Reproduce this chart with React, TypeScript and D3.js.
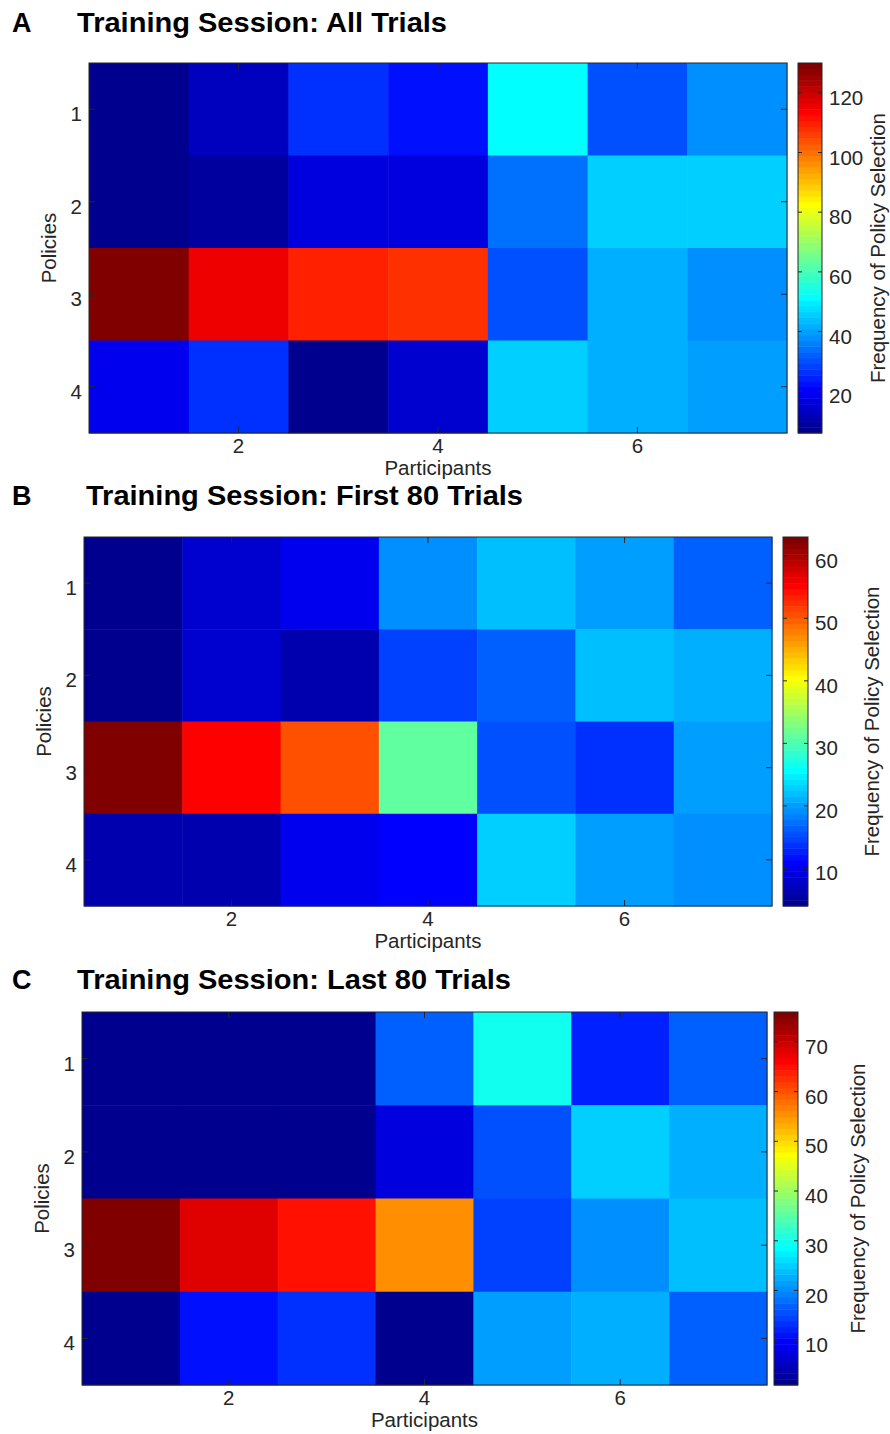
import * as d3 from "d3";
import React from "react";

const participants = [1, 2, 3, 4, 5, 6, 7];
const policies = [1, 2, 3, 4];
const xTickValues = [2, 4, 6];

// frequency of policy selection, one row per policy, one column per participant
const allTrials = [
  [6, 13, 26, 22, 51, 30, 38],
  [6, 9, 17, 17, 34, 46, 45],
  [130, 115, 110, 107, 30, 42, 38],
  [18, 26, 7, 14, 45, 42, 40],
];
const first80 = [
  [4, 8, 10, 19, 22, 20, 16],
  [4, 8, 6, 15, 16, 22, 21],
  [63, 55, 51, 31, 15.5, 14, 20],
  [6, 6, 10, 11, 23, 20, 19],
];
const last80 = [
  [1, 1, 1, 17, 30, 12, 17],
  [1, 1, 1, 7, 16, 25, 23],
  [76, 68, 65, 55, 14, 20, 24],
  [2, 11, 13, 1, 21, 23, 17],
];
const allTicks = [20, 40, 60, 80, 100, 120];
const first80Ticks = [10, 20, 30, 40, 50, 60];
const last80Ticks = [10, 20, 30, 40, 50, 60, 70];

// MATLAB jet(64), j is the 1-based index 1..64
const jet = (j: number) => {
  const r = j <= 24 ? 0 : j <= 40 ? (j - 24) / 16 : j <= 55 ? 1 : (72 - j) / 16;
  const g = j <= 8 ? 0 : j <= 24 ? (j - 8) / 16 : j <= 39 ? 1 : j <= 55 ? (56 - j) / 16 : 0;
  const b = j <= 8 ? (j + 8) / 16 : j <= 23 ? 1 : j <= 39 ? (40 - j) / 16 : 0;
  return d3.rgb(r * 255, g * 255, b * 255).formatHex();
};

const font = "'Liberation Sans', Arial, sans-serif";
const textCol = "#262626";
const fs = 20.5;

type Box = { x0: number; x1: number; y0: number; y1: number };

const Panel = ({ letter, title, values, ticks, plot, cbar, titleX, titleY, titleW, cbarLabelX }: {
  letter: string; title: string; values: number[][]; ticks: number[]; plot: Box;
  cbar: { x0: number; x1: number }; titleX: number; titleY: number; titleW: number; cbarLabelX: number
}) => {
  const flat = values.flat();
  const [cmin, cmax] = d3.extent(flat) as [number, number];
  const x = d3.scaleBand<number>().domain(participants).range([plot.x0, plot.x1]);
  const y = d3.scaleBand<number>().domain(policies).range([plot.y0, plot.y1]);
  const colorIdx = (v: number) => Math.min(64, Math.floor(((v - cmin) / (cmax - cmin)) * 64) + 1);
  const cy = d3.scaleLinear().domain([cmin, cmax]).range([plot.y1, plot.y0]);
  const levels = d3.range(64);
  const step = (cmax - cmin) / 64;
  const tl = 6;
  const midY = (plot.y0 + plot.y1) / 2;

  return (
    <g fontFamily={font}>
      <text x={12} y={titleY} fontSize={27} fontWeight="bold" fill="#000">{letter}</text>
      <text x={titleX} y={titleY} fontSize={27} fontWeight="bold" fill="#000"
        textLength={titleW} lengthAdjust="spacingAndGlyphs">{title}</text>

      {values.map((row, i) => row.map((v, k) => (
        <rect key={`${i}-${k}`} x={x(participants[k])!} y={y(policies[i])!}
          width={x.bandwidth() + 0.5} height={y.bandwidth() + 0.5} fill={jet(colorIdx(v))} />
      )))}
      <rect x={plot.x0} y={plot.y0} width={plot.x1 - plot.x0} height={plot.y1 - plot.y0}
        fill="none" stroke={textCol} strokeWidth={1} />

      {xTickValues.map(t => {
        const px = x(t)! + x.bandwidth() / 2;
        return (
          <g key={`xt${t}`}>
            <line x1={px} x2={px} y1={plot.y1} y2={plot.y1 - tl} stroke={textCol} />
            <line x1={px} x2={px} y1={plot.y0} y2={plot.y0 + tl} stroke={textCol} />
            <text x={px} y={plot.y1 + 19.5} fontSize={fs} textAnchor="middle" fill={textCol}>{t}</text>
          </g>
        );
      })}
      {policies.map(p => {
        const py = y(p)! + y.bandwidth() / 2;
        return (
          <g key={`yt${p}`}>
            <line x1={plot.x0} x2={plot.x0 + tl} y1={py} y2={py} stroke={textCol} />
            <line x1={plot.x1} x2={plot.x1 - tl} y1={py} y2={py} stroke={textCol} />
            <text x={plot.x0 - 7} y={py + 12} fontSize={fs} textAnchor="end" fill={textCol}>{p}</text>
          </g>
        );
      })}
      <text x={(plot.x0 + plot.x1) / 2} y={plot.y1 + 41.5} fontSize={fs} textAnchor="middle" fill={textCol}>Participants</text>
      <text transform={`translate(${plot.x0 - 33},${midY}) rotate(-90)`} fontSize={fs} textAnchor="middle" fill={textCol}>Policies</text>

      {levels.map(i => (
        <rect key={`cb${i}`} x={cbar.x0} y={cy(cmin + (i + 1) * step)} width={cbar.x1 - cbar.x0}
          height={cy(cmin + i * step) - cy(cmin + (i + 1) * step) + 0.5} fill={jet(i + 1)} />
      ))}
      <rect x={cbar.x0} y={plot.y0} width={cbar.x1 - cbar.x0} height={plot.y1 - plot.y0}
        fill="none" stroke={textCol} strokeWidth={1} />
      {ticks.map(t => (
        <g key={`ct${t}`}>
          <line x1={cbar.x1} x2={cbar.x1 - 4} y1={cy(t)} y2={cy(t)} stroke={textCol} />
          <line x1={cbar.x0} x2={cbar.x0 + 4} y1={cy(t)} y2={cy(t)} stroke={textCol} />
          <text x={cbar.x1 + 7} y={cy(t) + 12} fontSize={fs} fill={textCol}>{t}</text>
        </g>
      ))}
      <text transform={`translate(${cbarLabelX},${midY}) rotate(-90)`} fontSize={fs} textAnchor="middle" fill={textCol}>Frequency of Policy Selection</text>
    </g>
  );
};

export default function App() {
  return (
    <svg width={890} height={1434} style={{ position: "absolute", left: 0, top: 0, background: "#fff" }}>
      <rect width={890} height={1434} fill="#fff" />
      <Panel letter="A" title="Training Session: All Trials" values={allTrials} ticks={allTicks}
        plot={{ x0: 89, x1: 787, y0: 63, y1: 433 }} cbar={{ x0: 798, x1: 822 }}
        titleX={77} titleY={32} titleW={370} cbarLabelX={885} />
      <Panel letter="B" title="Training Session: First 80 Trials" values={first80} ticks={first80Ticks}
        plot={{ x0: 84, x1: 772, y0: 537, y1: 906 }} cbar={{ x0: 783, x1: 808 }}
        titleX={86} titleY={505} titleW={437} cbarLabelX={879} />
      <Panel letter="C" title="Training Session: Last 80 Trials" values={last80} ticks={last80Ticks}
        plot={{ x0: 82, x1: 767, y0: 1012, y1: 1385 }} cbar={{ x0: 774, x1: 798 }}
        titleX={77} titleY={989} titleW={434} cbarLabelX={865} />
    </svg>
  );
}
